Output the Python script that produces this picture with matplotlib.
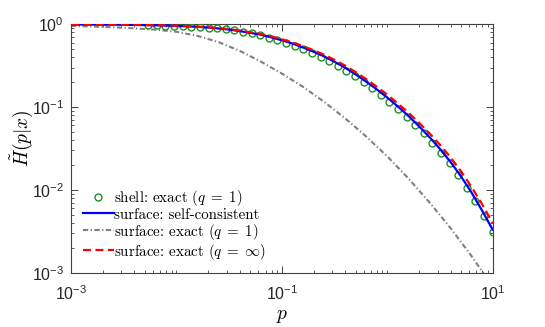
import numpy as np
import matplotlib
matplotlib.use('Agg')
import matplotlib.pyplot as plt
from matplotlib.ticker import FixedLocator, NullFormatter
from matplotlib.font_manager import FontProperties

plt.rcParams['mathtext.fontset'] = 'cm'
plt.rcParams['mathtext.rm'] = 'Liberation Sans'
plt.rcParams['mathtext.it'] = 'Liberation Sans:italic'
plt.rcParams['mathtext.bf'] = 'Liberation Sans:bold'
plt.rcParams['font.family'] = ['Liberation Sans', 'DejaVu Sans']

# values as log10(p), log10(H)
shell_logp = [-2.267, -2.185, -2.104, -2.022, -1.940, -1.859, -1.777, -1.695, -1.614,
              -1.532, -1.450, -1.369, -1.287, -1.205, -1.124, -1.042, -0.960, -0.878,
              -0.797, -0.715, -0.633, -0.552, -0.470, -0.388, -0.307, -0.225, -0.143,
              -0.062, 0.020, 0.102, 0.183, 0.265, 0.347, 0.428, 0.510, 0.592, 0.674,
              0.755, 0.837, 0.918, 1.000]
shell_logH = [-0.010, -0.012, -0.015, -0.018, -0.022, -0.027, -0.033, -0.040, -0.049,
              -0.060, -0.073, -0.090, -0.110, -0.133, -0.160, -0.190, -0.224, -0.261,
              -0.301, -0.345, -0.392, -0.444, -0.501, -0.563, -0.629, -0.699, -0.773,
              -0.851, -0.935, -1.024, -1.117, -1.214, -1.318, -1.430, -1.550, -1.680,
              -1.820, -1.972, -2.138, -2.315, -2.508]

curve_logp = [-3.0, -2.9, -2.8, -2.7, -2.6, -2.5, -2.4, -2.3, -2.2, -2.1, -2.0,
              -1.9, -1.8, -1.7, -1.6, -1.5, -1.4, -1.3, -1.2, -1.1, -1.0,
              -0.9, -0.8, -0.7, -0.6, -0.5, -0.4, -0.3, -0.2, -0.1, 0.0,
              0.1, 0.2, 0.3, 0.4, 0.5, 0.6, 0.7, 0.8, 0.9, 1.0]
selfcons_logH = [-0.002, -0.0025, -0.003, -0.004, -0.005, -0.006, -0.0075, -0.009, -0.012,
                 -0.015, -0.019, -0.024, -0.031, -0.039, -0.050, -0.064, -0.082, -0.103,
                 -0.125, -0.158, -0.193, -0.232, -0.280, -0.331, -0.387, -0.453, -0.524,
                 -0.605, -0.692, -0.785, -0.885, -0.992, -1.106, -1.230, -1.362, -1.505,
                 -1.662, -1.838, -2.033, -2.250, -2.480]
qinf_logH = [-0.002, -0.0023, -0.0028, -0.0037, -0.0047, -0.0057, -0.007, -0.0085, -0.011,
             -0.014, -0.0176, -0.022, -0.0285, -0.036, -0.046, -0.059, -0.076, -0.096,
             -0.117, -0.146, -0.181, -0.218, -0.263, -0.313, -0.367, -0.430, -0.499,
             -0.577, -0.662, -0.753, -0.850, -0.955, -1.066, -1.187, -1.316, -1.455,
             -1.607, -1.776, -1.965, -2.174, -2.400]

surf_q1_logp = [-3.0, -2.8, -2.6, -2.4, -2.2, -2.0, -1.8, -1.6, -1.4, -1.2, -1.0,
                -0.8, -0.6, -0.4, -0.2, 0.0, 0.2, 0.4, 0.6, 0.8, 0.9, 1.0]
surf_q1_logH = [-0.020, -0.027, -0.036, -0.049, -0.065, -0.090, -0.140, -0.215, -0.320,
                -0.450, -0.595, -0.755, -0.935, -1.135, -1.355, -1.595, -1.860, -2.150,
                -2.460, -2.800, -2.985, -3.180]

labels = [r'shell: exact ($q\;=\;1$)',
          r'surface: self-consistent',
          r'surface: exact ($q\;=\;1$)',
          r'surface: exact ($q\;=\;\infty$)']
xtick_vals = [1e-3, 1e-1, 1e1]
xtick_text = [r'$10^{-3}$', r'$10^{-1}$', r'$10^{1}$']
ytick_vals = [1e-3, 1e-2, 1e-1, 1e0]
ytick_text = [r'$10^{-3}$', r'$10^{-2}$', r'$10^{-1}$', r'$10^{0}$']

fig = plt.figure(figsize=(5.45, 3.27), dpi=100)
ax = fig.add_axes([0.1303, 0.166, 0.7737, 0.7597])

ax.plot(10.0 ** np.array(shell_logp), 10.0 ** np.array(shell_logH), 'o', ls='none',
        mfc='none', mec='#1f8f1f', ms=5, mew=1.0, label=labels[0], zorder=3)
ax.plot(10.0 ** np.array(curve_logp), 10.0 ** np.array(selfcons_logH), '-',
        color='#0000ff', lw=1.6, label=labels[1], zorder=4)
ax.plot(10.0 ** np.array(surf_q1_logp), 10.0 ** np.array(surf_q1_logH), '-.',
        color='#808080', lw=1.5, dashes=(2.5, 1.2, 0.6, 1.2), label=labels[2], zorder=2)
ax.plot(10.0 ** np.array(curve_logp), 10.0 ** np.array(qinf_logH), '--',
        color='#ff0000', lw=1.6, dashes=(3.6, 2.0), label=labels[3], zorder=5)

ax.set_xscale('log')
ax.set_yscale('log')
ax.set_xlim(1e-3, 1e1)
ax.set_ylim(1e-3, 1e0)

ax.xaxis.set_major_locator(FixedLocator(xtick_vals))
xminor = [m * 10.0 ** e for e in range(-3, 1) for m in range(2, 10)] + [1e-2, 1e0]
ax.xaxis.set_minor_locator(FixedLocator(xminor))
ax.yaxis.set_major_locator(FixedLocator(ytick_vals))
yminor = [m * 10.0 ** e for e in range(-3, 0) for m in range(2, 10)]
ax.yaxis.set_minor_locator(FixedLocator(yminor))
ax.xaxis.set_minor_formatter(NullFormatter())
ax.yaxis.set_minor_formatter(NullFormatter())
ax.set_xticklabels(xtick_text, math_fontfamily='custom')
ax.set_yticklabels(ytick_text, math_fontfamily='custom')

axcol = '#404040'
for s in ax.spines.values():
    s.set_color(axcol)
    s.set_linewidth(0.8)
ax.tick_params(which='both', direction='in', top=True, right=True, colors=axcol,
               labelcolor='#262626', labelsize=11.5)
ax.tick_params(which='major', length=5, width=0.7)
ax.tick_params(axis='x', which='major', pad=8)
ax.tick_params(axis='y', which='major', pad=5)
ax.tick_params(which='minor', length=2.5, width=0.6)

ax.set_xlabel(r'$p$', fontsize=14, labelpad=4)
ax.set_ylabel(r'$\tilde{H}(p|x)$', fontsize=14)
ax.yaxis.set_label_coords(-0.085, 0.54)

leg = ax.legend(loc='lower left', bbox_to_anchor=(0.028, 0.045), frameon=False,
                prop=FontProperties(family='cmr10', size=10.8),
                handlelength=2.05, handletextpad=0.05, labelspacing=0.0,
                borderaxespad=0.0, borderpad=0.0)

fig.savefig('out.png', dpi=100)
